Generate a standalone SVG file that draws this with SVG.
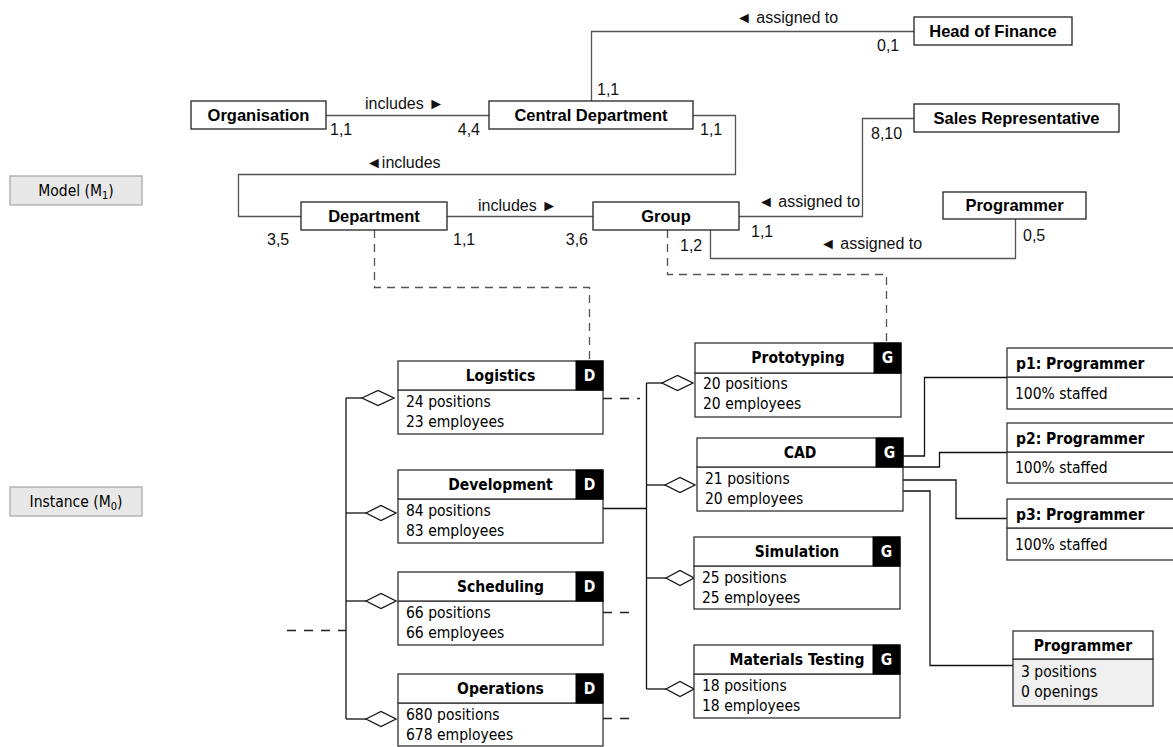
<svg xmlns="http://www.w3.org/2000/svg" width="1173" height="747" viewBox="0 0 1173 747">
  <style>
    .mbox { fill: #fff; stroke: #222; stroke-width: 1.3; }
    .mname { font-family: "Liberation Sans", Arial, sans-serif; font-size: 16.5px; font-weight: bold; fill: #000; text-anchor: middle; }
    .mlbl { font-family: "Liberation Sans", Arial, sans-serif; font-size: 16px; fill: #111; }
    .mline { fill: none; stroke: #555; stroke-width: 1.3; }
    .dash { fill: none; stroke: #555; stroke-width: 1.3; stroke-dasharray: 8 6; }
    .idash { fill: none; stroke: #222; stroke-width: 1.3; stroke-dasharray: 9 8; }
    .iline { fill: none; stroke: #111; stroke-width: 1.3; }
    .ibox { fill: #fff; stroke: #333; stroke-width: 1.3; }
    .ibody { fill: #fff; stroke: #333; stroke-width: 1.3; }
    .gray { fill: #f0f0f0; }
    .badge { fill: #000; stroke: #000; stroke-width: 1; }
    .tf { font-family: "DejaVu Sans", Verdana, sans-serif; font-stretch: condensed; font-size: 15.5px; }
    .btxt { font-weight: bold; fill: #fff; text-anchor: middle; }
    .ititle { font-weight: bold; fill: #000; text-anchor: middle; }
    .ptitle { font-weight: bold; fill: #000; text-anchor: start; }
    .itext { fill: #000; }
    .diamond { fill: #fff; stroke: #111; stroke-width: 1.3; }
    .level { fill: #e8e8e8; stroke: #aaa; stroke-width: 1.3; }
    .ltxt { fill: #000; text-anchor: middle; }
  </style>

  <!-- level labels -->
  <g id="level-model">
    <rect class="level" x="10" y="176" width="132" height="29"/>
    <text class="tf ltxt" x="76" y="196">Model (M<tspan font-size="11" dy="3">1</tspan><tspan dy="-3">)</tspan></text>
  </g>
  <g id="level-instance">
    <rect class="level" x="10" y="487" width="132" height="29"/>
    <text class="tf ltxt" x="76" y="507">Instance (M<tspan font-size="11" dy="3">0</tspan><tspan dy="-3">)</tspan></text>
  </g>

  <!-- connectors -->
  <g id="connectors">
    <!-- model associations -->
    <path class="mline" d="M326 115.5 H489"/>
    <path class="mline" d="M591.5 101 V31.5 H914"/>
    <path class="mline" d="M693 115.5 H735.5 V174.5 H238.5 V216.5 H301"/>
    <path class="mline" d="M447 216.5 H593"/>
    <path class="mline" d="M739 216.5 H862.5 V118.5 H914"/>
    <path class="mline" d="M710.5 230 V258.5 H1015.5 V219"/>
    <!-- instance-of links -->
    <path class="dash" d="M374.5 230 V287.5 H589.5 V361"/>
    <path class="dash" d="M667.5 230 V274.5 H886.5 V343"/>

    <!-- department aggregation bus -->
    <path class="iline" d="M346 398 V719"/>
    <path class="iline" d="M346 398 H362"/>
    <path class="iline" d="M346 513 H366"/>
    <path class="iline" d="M346 601 H366"/>
    <path class="iline" d="M346 719 H366"/>
    <polygon class="diamond" points="362,398 378,390.5 394,398 378,405.5"/>
    <polygon class="diamond" points="366,513 381,505.5 396,513 381,520.5"/>
    <polygon class="diamond" points="366,601 381,593.5 396,601 381,608.5"/>
    <polygon class="diamond" points="366,719 381,711.5 396,719 381,726.5"/>
    <path class="idash" d="M287 630.5 H346"/>

    <!-- group aggregation bus -->
    <path class="iline" d="M646.5 383 V689"/>
    <path class="iline" d="M646.5 383 H662"/>
    <path class="iline" d="M646.5 485 H665"/>
    <path class="iline" d="M646.5 578 H666"/>
    <path class="iline" d="M646.5 689 H666"/>
    <polygon class="diamond" points="662,383 677.5,375.5 693,383 677.5,390.5"/>
    <polygon class="diamond" points="665,485 680,477.5 695,485 680,492.5"/>
    <polygon class="diamond" points="666,578 680,570.5 694,578 680,585.5"/>
    <polygon class="diamond" points="666,689 680,681.5 694,689 680,696.5"/>
    <path class="iline" d="M603 508.5 H646.5"/>
    <path class="idash" d="M603 398.5 H640"/>
    <path class="idash" d="M603 612.5 H631"/>
    <path class="idash" d="M603 718.5 H631"/>

    <!-- CAD staffing links -->
    <path class="iline" d="M903 456 H924.5 V377.5 H1007"/>
    <path class="iline" d="M903 467 H939.5 V452.5 H1007"/>
    <path class="iline" d="M903 480 H956 V518.5 H1007"/>
    <path class="iline" d="M903 491 H930 V665.5 H1013"/>

    <!-- association labels -->
    <text class="mlbl" x="365" y="109">includes ►</text>
    <text class="mlbl" x="330" y="135">1,1</text>
    <text class="mlbl" x="480" y="135" text-anchor="end">4,4</text>
    <text class="mlbl" x="736" y="23">◄ assigned to</text>
    <text class="mlbl" x="877" y="51">0,1</text>
    <text class="mlbl" x="597" y="95">1,1</text>
    <text class="mlbl" x="700" y="135">1,1</text>
    <text class="mlbl" x="366" y="168">◄includes</text>
    <text class="mlbl" x="871" y="139">8,10</text>
    <text class="mlbl" x="267" y="245">3,5</text>
    <text class="mlbl" x="453" y="245">1,1</text>
    <text class="mlbl" x="478" y="211">includes ►</text>
    <text class="mlbl" x="588" y="245" text-anchor="end">3,6</text>
    <text class="mlbl" x="758" y="207">◄ assigned to</text>
    <text class="mlbl" x="751" y="237">1,1</text>
    <text class="mlbl" x="680" y="251">1,2</text>
    <text class="mlbl" x="820" y="249">◄ assigned to</text>
    <text class="mlbl" x="1023" y="241">0,5</text>
  </g>

  <!-- model classes -->
  <g id="organisation">
    <rect class="mbox" x="191" y="101" width="135" height="28"/>
    <text class="mname" x="258.5" y="121">Organisation</text>
  </g>
  <g id="central-department">
    <rect class="mbox" x="489" y="101" width="204" height="28"/>
    <text class="mname" x="591" y="121">Central Department</text>
  </g>
  <g id="head-of-finance">
    <rect class="mbox" x="914" y="17" width="158" height="28"/>
    <text class="mname" x="993" y="37">Head of Finance</text>
  </g>
  <g id="sales-representative">
    <rect class="mbox" x="914" y="104" width="205" height="28"/>
    <text class="mname" x="1016.5" y="124">Sales Representative</text>
  </g>
  <g id="department">
    <rect class="mbox" x="301" y="202" width="146" height="28"/>
    <text class="mname" x="374" y="222">Department</text>
  </g>
  <g id="group">
    <rect class="mbox" x="593" y="202" width="146" height="28"/>
    <text class="mname" x="666" y="222">Group</text>
  </g>
  <g id="programmer">
    <rect class="mbox" x="943" y="192" width="143" height="27"/>
    <text class="mname" x="1014.5" y="211">Programmer</text>
  </g>

  <!-- departments -->
  <g id="logistics">
    <rect class="ibody" x="398" y="390" width="205" height="44"/>
    <rect class="ibox" x="398" y="361" width="205" height="29"/>
    <rect class="badge" x="576" y="361" width="27" height="29"/>
    <text class="tf btxt" x="589.5" y="381">D</text>
    <text class="tf ititle" x="500.5" y="381">Logistics</text>
    <text class="tf itext" x="406" y="407">24 positions</text>
    <text class="tf itext" x="406" y="427">23 employees</text>
  </g>
  <g id="development">
    <rect class="ibody" x="398" y="499" width="205" height="44"/>
    <rect class="ibox" x="398" y="470" width="205" height="29"/>
    <rect class="badge" x="576" y="470" width="27" height="29"/>
    <text class="tf btxt" x="589.5" y="490">D</text>
    <text class="tf ititle" x="500.5" y="490">Development</text>
    <text class="tf itext" x="406" y="516">84 positions</text>
    <text class="tf itext" x="406" y="536">83 employees</text>
  </g>
  <g id="scheduling">
    <rect class="ibody" x="398" y="601" width="205" height="44"/>
    <rect class="ibox" x="398" y="572" width="205" height="29"/>
    <rect class="badge" x="576" y="572" width="27" height="29"/>
    <text class="tf btxt" x="589.5" y="592">D</text>
    <text class="tf ititle" x="500.5" y="592">Scheduling</text>
    <text class="tf itext" x="406" y="618">66 positions</text>
    <text class="tf itext" x="406" y="638">66 employees</text>
  </g>
  <g id="operations">
    <rect class="ibody" x="398" y="703" width="205" height="43"/>
    <rect class="ibox" x="398" y="674" width="205" height="29"/>
    <rect class="badge" x="576" y="674" width="27" height="29"/>
    <text class="tf btxt" x="589.5" y="694">D</text>
    <text class="tf ititle" x="500.5" y="694">Operations</text>
    <text class="tf itext" x="406" y="720">680 positions</text>
    <text class="tf itext" x="406" y="740">678 employees</text>
  </g>

  <!-- groups -->
  <g id="prototyping">
    <rect class="ibody" x="695" y="373" width="206" height="44"/>
    <rect class="ibox" x="695" y="343" width="206" height="30"/>
    <rect class="badge" x="874" y="343" width="27" height="30"/>
    <text class="tf btxt" x="887.5" y="363">G</text>
    <text class="tf ititle" x="798" y="363">Prototyping</text>
    <text class="tf itext" x="703" y="389">20 positions</text>
    <text class="tf itext" x="703" y="409">20 employees</text>
  </g>
  <g id="cad">
    <rect class="ibody" x="697" y="467" width="206" height="44"/>
    <rect class="ibox" x="697" y="438" width="206" height="29"/>
    <rect class="badge" x="876" y="438" width="27" height="29"/>
    <text class="tf btxt" x="889.5" y="458">G</text>
    <text class="tf ititle" x="800" y="458">CAD</text>
    <text class="tf itext" x="705" y="484">21 positions</text>
    <text class="tf itext" x="705" y="504">20 employees</text>
  </g>
  <g id="simulation">
    <rect class="ibody" x="694" y="566" width="206" height="43"/>
    <rect class="ibox" x="694" y="537" width="206" height="29"/>
    <rect class="badge" x="873" y="537" width="27" height="29"/>
    <text class="tf btxt" x="886.5" y="557">G</text>
    <text class="tf ititle" x="797" y="557">Simulation</text>
    <text class="tf itext" x="702" y="583">25 positions</text>
    <text class="tf itext" x="702" y="603">25 employees</text>
  </g>
  <g id="materials-testing">
    <rect class="ibody" x="694" y="674" width="206" height="44"/>
    <rect class="ibox" x="694" y="645" width="206" height="29"/>
    <rect class="badge" x="873" y="645" width="27" height="29"/>
    <text class="tf btxt" x="886.5" y="665">G</text>
    <text class="tf ititle" x="797" y="665">Materials Testing</text>
    <text class="tf itext" x="702" y="691">18 positions</text>
    <text class="tf itext" x="702" y="711">18 employees</text>
  </g>

  <!-- programmer positions -->
  <g id="p1">
    <rect class="ibody" x="1007" y="377" width="180" height="32"/>
    <rect class="ibox" x="1007" y="348" width="180" height="29"/>
    <text class="tf ptitle" x="1016" y="369">p1: Programmer</text>
    <text class="tf itext" x="1015" y="399">100% staffed</text>
  </g>
  <g id="p2">
    <rect class="ibody" x="1007" y="452" width="180" height="31"/>
    <rect class="ibox" x="1007" y="423" width="180" height="29"/>
    <text class="tf ptitle" x="1016" y="444">p2: Programmer</text>
    <text class="tf itext" x="1015" y="473">100% staffed</text>
  </g>
  <g id="p3">
    <rect class="ibody" x="1007" y="528" width="180" height="32"/>
    <rect class="ibox" x="1007" y="499" width="180" height="29"/>
    <text class="tf ptitle" x="1016" y="520">p3: Programmer</text>
    <text class="tf itext" x="1015" y="550">100% staffed</text>
  </g>
  <g id="programmer-slots">
    <rect class="ibody gray" x="1013" y="659" width="140" height="47"/>
    <rect class="ibox" x="1013" y="631" width="140" height="28"/>
    <text class="tf ititle" x="1083" y="651">Programmer</text>
    <text class="tf itext" x="1021" y="677">3 positions</text>
    <text class="tf itext" x="1021" y="697">0 openings</text>
  </g>
</svg>
